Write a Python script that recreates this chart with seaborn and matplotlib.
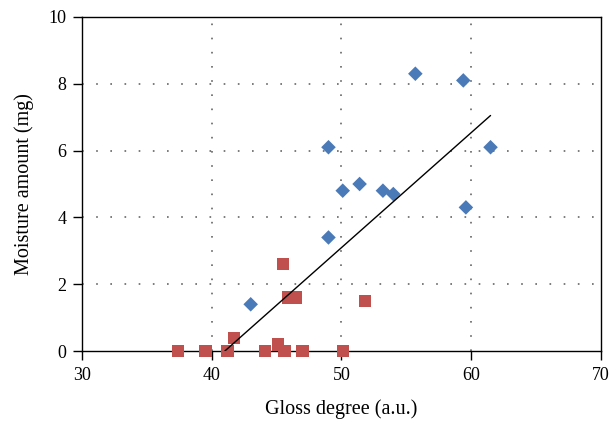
import pandas as pd
import seaborn as sns
import matplotlib.pyplot as plt

# blue diamonds
blue_gloss = [43.0, 49.0, 49.0, 50.1, 51.4, 53.2, 54.0, 55.7, 59.4, 59.6, 61.5]
blue_moist = [1.4, 3.4, 6.1, 4.8, 5.0, 4.8, 4.7, 8.3, 8.1, 4.3, 6.1]

# red squares
red_gloss = [37.4, 39.5, 41.2, 41.7, 44.1, 45.1, 45.6, 47.0, 50.1, 45.5, 45.9, 46.5, 51.8]
red_moist = [0.0, 0.0, 0.0, 0.4, 0.0, 0.2, 0.0, 0.0, 0.0, 2.6, 1.6, 1.6, 1.5]

# fitted trend line end points
fit_x = [41.0, 61.5]
fit_y = [0.0, 7.05]

x_ticks = [30, 40, 50, 60, 70]
y_ticks = [0, 2, 4, 6, 8, 10]

df = pd.DataFrame({
    'gloss': blue_gloss + red_gloss,
    'moist': blue_moist + red_moist,
    'group': ['blue'] * len(blue_gloss) + ['red'] * len(red_gloss),
})

sns.set_style("ticks")
plt.rcParams['font.family'] = ['Liberation Serif', 'DejaVu Serif']
plt.rcParams['text.color'] = 'black'
plt.rcParams['axes.labelcolor'] = 'black'

fig = plt.figure(figsize=(6.13, 4.23), dpi=100)
ax = fig.add_axes([0.134, 0.170, 0.846, 0.790])

# grid lines (sparse dots)
for xv in x_ticks[1:-1]:
    ax.axvline(xv, color='#666666', lw=1.2, ls=(0, (1, 7.5)), zorder=0)
for yv in y_ticks[1:-1]:
    ax.axhline(yv, color='#666666', lw=1.2, ls=(0, (1, 7.5)), zorder=0)

sns.scatterplot(data=df[df.group == 'blue'], x='gloss', y='moist', marker='D',
                color='#4a7ab8', s=55, edgecolor='none', ax=ax, zorder=4)
sns.scatterplot(data=df[df.group == 'red'], x='gloss', y='moist', marker='s',
                color='#c0504d', s=80, edgecolor='none', ax=ax, zorder=4, clip_on=False)

ax.plot(fit_x, fit_y, color='black', lw=1.0, zorder=5)

ax.set_xlim(30, 70)
ax.set_ylim(0, 10)
ax.set_xticks(x_ticks)
ax.set_yticks(y_ticks)
ax.tick_params(labelsize=13, length=6.5, width=1, color='black', labelcolor='black',
               direction='out', pad=5)
for sp in ax.spines.values():
    sp.set_color('black')
    sp.set_linewidth(1.0)

ax.set_xlabel('Gloss degree (a.u.)', fontsize=14.5, labelpad=11, color='black')
ax.set_ylabel('Moisture amount (mg)', fontsize=14.5, labelpad=10, color='black')

fig.savefig('out.png', dpi=100)
